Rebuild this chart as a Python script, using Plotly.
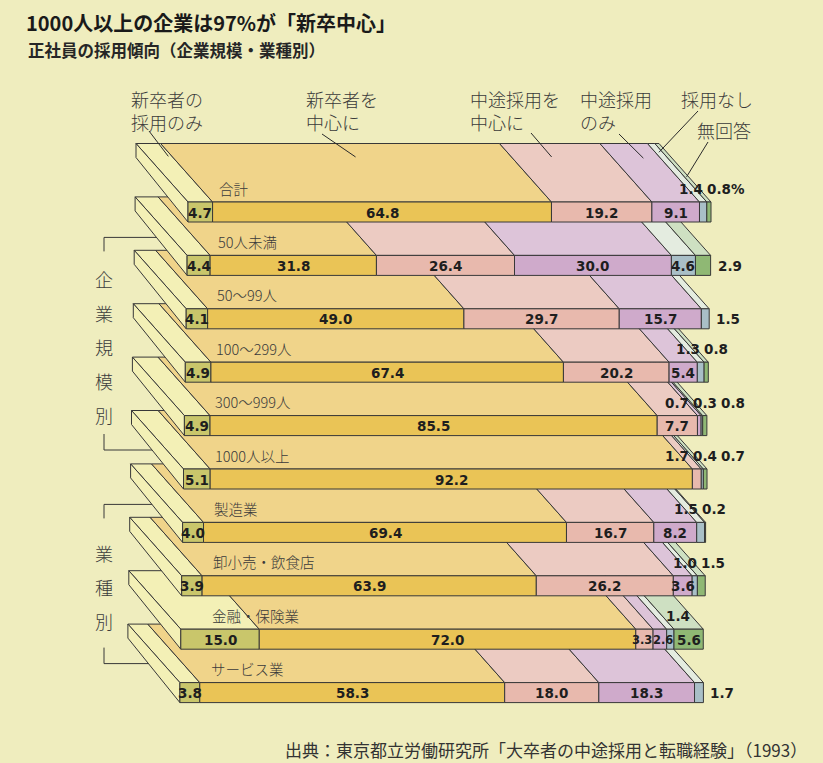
import plotly.graph_objects as go

# ---------------- data ----------------
categories = ["合計", "50人未満", "50～99人", "100～299人", "300～999人", "1000人以上",
              "製造業", "卸小売・飲食店", "金融・保険業", "サービス業"]
series_names = ["新卒者の採用のみ", "新卒者を中心に", "中途採用を中心に", "中途採用のみ", "採用なし", "無回答"]
series_headers = ["新卒者の<br>採用のみ", "新卒者を<br>中心に", "中途採用を<br>中心に", "中途採用<br>のみ", "採用なし", "無回答"]

shinsotsu_only = [4.7, 4.4, 4.1, 4.9, 4.9, 5.1, 4.0, 3.9, 15.0, 3.8]
shinsotsu_main = [64.8, 31.8, 49.0, 67.4, 85.5, 92.2, 69.4, 63.9, 72.0, 58.3]
chuto_main = [19.2, 26.4, 29.7, 20.2, 7.7, 1.7, 16.7, 26.2, 3.3, 18.0]
chuto_only = [9.1, 30.0, 15.7, 5.4, 0.7, 0.0, 8.2, 3.6, 2.6, 18.3]
no_hiring = [1.4, 4.6, 1.5, 1.3, 0.3, 0.4, 1.5, 1.0, 1.4, 1.7]
no_answer = [0.8, 2.9, 0.0, 0.8, 0.8, 0.7, 0.2, 1.5, 5.6, 0.0]
series_values = [shinsotsu_only, shinsotsu_main, chuto_main, chuto_only, no_hiring, no_answer]

group_labels = ["企業規模別", "業種別"]
group_rows = [(1, 5), (6, 9)]

title = "1000人以上の企業は97%が「新卒中心」"
subtitle = "正社員の採用傾向（企業規模・業種別）"
source = "出典：東京都立労働研究所「大卒者の中途採用と転職経験」（1993）"

# ---------------- style ----------------
W, H = 823, 763
BG = "#efedbe"
EDGE = "#383838"
FRONT = ["#c9c66b", "#eac456", "#e8b9ad", "#cfaacb", "#a9bfc7", "#8fb874"]
TOP = ["#f3f0b6", "#f0d48a", "#eccbc2", "#ddc4d9", "#e4ece0", "#cee0c2"]
CAP = "#f3f0b6"
TEXT = "#333333"
JP = "Noto Sans CJK JP, sans-serif"
NUM = "DejaVu Sans, sans-serif"

# ---------------- geometry of the drawing (pixel scale of the axes) ----------------
PX_PER_PCT = 5.23        # horizontal pixels per percent
BAR_LEFT_PX = 188        # left end of the first bar
ROW0_PX = 212            # centre of first row
ROW_PITCH_PX = 53.4      # distance between rows
ROW_DRIFT_PX = -0.9      # slight leftward drift per row
FRONT_H_PX = 20          # height of front face
DEPTH_DX_PX = 52         # depth offset of the top face (left)
DEPTH_DY_PX = 58.5       # depth offset of the top face (up)
CAP_BACK_H_PX = 14       # visible height of the end cap at its back edge

x_range = [-BAR_LEFT_PX / PX_PER_PCT, (W - BAR_LEFT_PX) / PX_PER_PCT]
y_range = [(H - ROW0_PX) / ROW_PITCH_PX, -ROW0_PX / ROW_PITCH_PX]


def px_x(px):
    return (px - BAR_LEFT_PX) / PX_PER_PCT


def px_y(py):
    return (py - ROW0_PX) / ROW_PITCH_PX


def dx_px(d):
    return d / PX_PER_PCT


def dy_px(d):
    return d / ROW_PITCH_PX


DX = dx_px(DEPTH_DX_PX)
DY = dy_px(DEPTH_DY_PX)
HH = dy_px(FRONT_H_PX / 2)
CAPH = dy_px(CAP_BACK_H_PX)


def row_shift(i):
    return dx_px(ROW_DRIFT_PX * i)


fig = go.Figure()


def poly(xs, ys, fill, width=1):
    fig.add_trace(go.Scatter(
        x=list(xs) + [xs[0]], y=list(ys) + [ys[0]], mode="lines",
        fill="toself", fillcolor=fill, line=dict(color=EDGE, width=width),
        hoverinfo="skip", showlegend=False))


def seg_line(xs, ys, color=EDGE, width=1):
    fig.add_trace(go.Scatter(x=xs, y=ys, mode="lines", line=dict(color=color, width=width),
                             hoverinfo="skip", showlegend=False))


annotations = []


def text(x, y, s, size, family=JP, color=TEXT, xanchor="center", yanchor="middle",
         weight="normal", xref="x", yref="y", align="left"):
    annotations.append(dict(x=x, y=y, xref=xref, yref=yref, text=s, showarrow=False,
                            xanchor=xanchor, yanchor=yanchor, align=align, borderpad=0,
                            font=dict(family=family, size=size, color=color, weight=weight)))


def num_width_px(s, size):
    # rough advance widths of DejaVu Sans Bold
    w = 0.0
    for ch in s:
        w += 0.38 if ch == "." else (1.0 if ch == "%" else 0.696)
    return w * size


# ---------------- group brackets (behind the bars) ----------------
BRACKET_X_PX = 104
CHAR_STEP_PX = 34
for label, (r0, r1) in zip(group_labels, group_rows):
    top = r0 - dy_px(28)
    bot = r1 - dy_px(29)
    bx = px_x(BRACKET_X_PX)
    tick_end = px_x(162)
    seg_line([tick_end, bx, bx], [top, top, top + dy_px(14)])
    seg_line([bx, bx, tick_end], [bot - dy_px(16), bot, bot])
    mid = (top + bot) / 2 + dy_px(3)
    n = len(label)
    for k, ch in enumerate(label):
        yk = mid + dy_px(CHAR_STEP_PX) * (k - (n - 1) / 2)
        text(bx, yk, ch, 18, color="#3c3c3c", weight=300)

# ---------------- bars, drawn from the front row upward ----------------
n_rows = len(categories)
row_edges = {}
for i in reversed(range(n_rows)):
    vals = [s[i] for s in series_values]
    sh = row_shift(i)
    y_top, y_bot = i - HH, i + HH
    y_back = y_top - DY
    edges = [sh]
    for v in vals:
        edges.append(edges[-1] + v)
    row_edges[i] = edges
    for s, v in enumerate(vals):
        if v <= 0:
            continue
        xa, xb = edges[s], edges[s + 1]
        poly([xa, xb, xb - DX, xa - DX], [y_top, y_top, y_back, y_back], TOP[s])
    x0 = edges[0]
    poly([x0, x0, x0 - DX, x0 - DX], [y_top, y_bot, y_back + CAPH, y_back], CAP)
    for s, v in enumerate(vals):
        if v <= 0:
            continue
        xa, xb = edges[s], edges[s + 1]
        poly([xa, xb, xb, xa], [y_top, y_top, y_bot, y_bot], FRONT[s])


# ---------------- value labels ----------------
def label_modes(vals):
    nz = [k for k, v in enumerate(vals) if v > 0]
    last = nz[-1]
    small = [k for k in nz if vals[k] < 2.0]
    modes = []
    for k, v in enumerate(vals):
        if v <= 0:
            modes.append(None)
        elif k == last and v < 3.0 and all(j == k for j in small):
            modes.append("right")
        elif v < 2.0:
            modes.append("top")
        else:
            modes.append("in")
    return modes


def spread(centres, widths, gap, both_ways=False):
    # move neighbouring labels apart until they no longer touch
    c = list(centres)
    for _ in range(40):
        moved = False
        for j in range(len(c) - 1):
            need = widths[j] / 2 + gap + widths[j + 1] / 2
            over = need - (c[j + 1] - c[j])
            if over > 0.01:
                if both_ways:
                    c[j] -= over / 2
                    c[j + 1] += over / 2
                else:
                    c[j + 1] += over
                moved = True
        if not moved:
            break
    return c


TOP_OFFSETS_PX = {1: [-25], 2: [-20, 7], 3: [-30, -5, 20]}
VAL_SIZE = 13.5
NARROW_SIZE = 11.5
for i in range(n_rows):
    vals = [s[i] for s in series_values]
    edges = row_edges[i]
    modes = label_modes(vals)
    end_px = edges[-1] * PX_PER_PCT

    # labels inside the front face
    ins = [k for k, m in enumerate(modes) if m == "in"]
    labs, sizes, cents, wids = [], [], [], []
    for k in ins:
        lab = f"{vals[k]:.1f}"
        seg_w = vals[k] * PX_PER_PCT
        size = VAL_SIZE if seg_w > 18 else NARROW_SIZE
        labs.append(lab)
        sizes.append(size)
        cents.append((edges[k] + edges[k + 1]) / 2 * PX_PER_PCT)
        wids.append(num_width_px(lab, size) * 0.92)
    cents = spread(cents, wids, 2, both_ways=True)
    for lab, size, c in zip(labs, sizes, cents):
        text(c / PX_PER_PCT, i + dy_px(0.5), lab, size, family=NUM, color="#1e1e1e",
             weight="bold")

    # labels placed beyond the end of the bar
    for k, m in enumerate(modes):
        if m == "right":
            text(edges[-1] + dx_px(6), i + dy_px(0.5), f"{vals[k]:.1f}", VAL_SIZE,
                 family=NUM, color="#1e1e1e", weight="bold", xanchor="left")

    # labels for thin segments, set above the bar on its top face
    tops = [k for k, m in enumerate(modes) if m == "top"]
    if tops:
        labs = [f"{vals[k]:.1f}" for k in tops]
        if i == 0:
            labs[-1] += "%"
        offs = TOP_OFFSETS_PX[len(tops)]
        cents = [end_px + o for o in offs]
        wids = [num_width_px(l, VAL_SIZE) for l in labs]
        cents = spread(cents, wids, 4)
        for lab, c in zip(labs, cents):
            text(c / PX_PER_PCT, i - dy_px(23), lab, VAL_SIZE, family=NUM,
                 color="#1e1e1e", weight="bold")

    # category name on the top face
    text(row_shift(i) + dx_px(30), i - dy_px(24), categories[i], 14.5, color="#3a3a3a",
         xanchor="left", weight=300)

# ---------------- series headers with leader lines to the first bar ----------------
HEADER_POS_PX = [(130, 110), (305, 110), (469, 110), (579, 110), (680, 99), (696, 130)]
LEADER_START_PX = [(149, 131), (322, 134), (531, 133), (619, 134), (698, 111), (708, 142)]
LEADER_TARGET = [(0.78, 0.85), (0.77, 0.54), (0.77, 0.40), (0.75, 0.64), (0.85, 0.5), (0.43, 0.5)]
e0 = row_edges[0]
for s, hdr in enumerate(series_headers):
    hx, hy = HEADER_POS_PX[s]
    text(px_x(hx), px_y(hy), hdr, 18, color="#3a3a3a", xanchor="left", weight=300)
    f, a = LEADER_TARGET[s]
    tx = e0[s] + a * (e0[s + 1] - e0[s]) - f * DX
    ty = (0 - HH) - f * DY
    sx, sy = LEADER_START_PX[s]
    seg_line([px_x(sx), tx], [px_y(sy), ty], color="#2a2a2a", width=1)

# ---------------- titles and source ----------------
text(25 / W, 1 - 23 / H, title, 20, xref="paper", yref="paper", xanchor="left",
     weight="bold", color="#1a1a1a")
text(27 / W, 1 - 50 / H, subtitle, 16.5, xref="paper", yref="paper", xanchor="left",
     weight="bold", color="#262626")
text(808 / W, 1 - 749 / H, source, 17, xref="paper", yref="paper", xanchor="right",
     color="#333333")

fig.update_layout(
    width=W, height=H, autosize=False,
    margin=dict(l=0, r=0, t=0, b=0),
    paper_bgcolor=BG, plot_bgcolor=BG,
    xaxis=dict(range=x_range, visible=False, fixedrange=True),
    yaxis=dict(range=y_range, visible=False, fixedrange=True),
    annotations=annotations,
    showlegend=False,
)

fig.write_html("out.html")
